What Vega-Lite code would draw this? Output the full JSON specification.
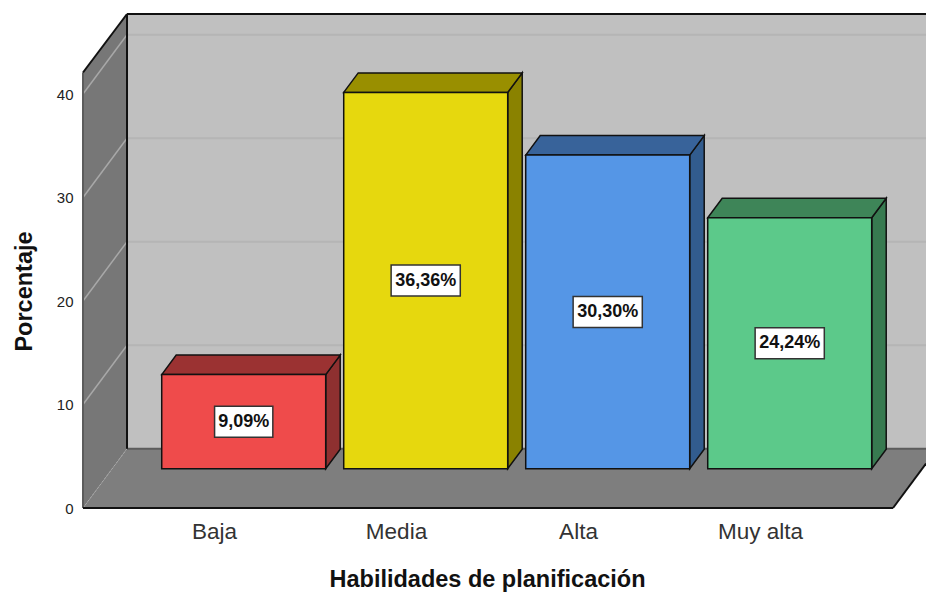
{"$schema":"https://vega.github.io/schema/vega-lite/v6.json","width":843,"height":494,"autosize":"none","padding":{"left":83,"top":14,"right":0,"bottom":84},"background":"white","config":{"view":{"stroke":null},"font":"Liberation Sans"},
"datasets":{
"bars":[{"cat":"Baja","pct":9.09,"label":"9,09%"},{"cat":"Media","pct":36.36,"label":"36,36%"},{"cat":"Alta","pct":30.30,"label":"30,30%"},{"cat":"Muy alta","pct":24.24,"label":"24,24%"}],
"back":[{"px":0.522,"py":47.73,"py2":5.73},{"px":4.912,"py":47.73,"py2":5.73}],
"left":[{"px":0.2802,"py":42.08,"py2":0},{"px":0.522,"py":47.73,"py2":5.73}],
"floor":[{"px":0.2802,"py":0,"py2":0},{"px":0.522,"py":5.73,"py2":0},{"px":4.7308,"py":5.73,"py2":0},{"px":4.912,"py":5.73,"py2":4.294}],
"ticks":[{"v":10},{"v":20},{"v":30},{"v":40}],
"edges":[{"px":0.2802,"py":42.08,"px2":0.522,"py2":47.73},{"px":0.522,"py":47.73,"px2":4.912,"py2":47.73},{"px":0.522,"py":47.73,"px2":0.522,"py2":5.73},{"px":0.2802,"py":0,"px2":4.7308,"py2":0},{"px":4.7308,"py":0,"px2":4.912,"py2":4.294}],
"soft":[{"px":0.2802,"py":0,"px2":0.2802,"py2":42.08},{"px":0.522,"py":5.73,"px2":4.912,"py2":5.73}]
},
"encoding":{
"x":{"field":"px","type":"quantitative","scale":{"domain":[0.2802,4.912],"nice":false,"zero":false},"axis":{"values":[1,2,3,4],"labelExpr":"['Baja','Media','Alta','Muy alta'][datum.value-1]","title":"Habilidades de planificación","grid":false,"domain":false,"ticks":false,"labelFontSize":22.5,"labelColor":"#333333","labelPadding":12,"titleFontSize":23.5,"titleFontWeight":"bold","titleColor":"#111111","titleX":404,"titleY":71,"titleBaseline":"middle","labelFlush":false,"labelOverlap":false}},
"y":{"field":"py","type":"quantitative","stack":null,"scale":{"domain":[0,47.73],"nice":false,"zero":false},"axis":{"values":[0,10,20,30,40],"title":"Porcentaje","grid":false,"domain":false,"ticks":false,"labelFontSize":15,"labelColor":"#222222","labelPadding":10,"titleFontSize":23.5,"titleFontWeight":"bold","titleColor":"#111111","titleX":-59,"titleY":277,"titleBaseline":"middle"}}
},
"layer":[
{"data":{"name":"back"},"mark":{"type":"area","fill":"#c0c0c0","stroke":null},"encoding":{"y2":{"field":"py2"}}},
{"data":{"name":"ticks"},"transform":[{"calculate":"0.522","as":"px"},{"calculate":"4.912","as":"px2"},{"calculate":"datum.v+5.73","as":"py"},{"calculate":"datum.v+5.73","as":"py2"}],"mark":{"type":"rule","stroke":"#b5b5b5","strokeWidth":2},"encoding":{"x2":{"field":"px2"},"y2":{"field":"py2"}}},
{"data":{"name":"left"},"mark":{"type":"area","fill":"#777777","stroke":null},"encoding":{"y2":{"field":"py2"}}},
{"data":{"name":"floor"},"mark":{"type":"area","fill":"#7e7e7e","stroke":null},"encoding":{"y2":{"field":"py2"}}},
{"data":{"name":"ticks"},"transform":[{"calculate":"0.2802","as":"px"},{"calculate":"0.522","as":"px2"},{"calculate":"datum.v","as":"py"},{"calculate":"datum.v+5.73","as":"py2"}],"mark":{"type":"rule","stroke":"#a8a8a8","strokeWidth":1.5},"encoding":{"x2":{"field":"px2"},"y2":{"field":"py2"}}},
{"data":{"values":[{"px":0.2802,"py":0,"px2":0.522,"py2":5.73}]},"mark":{"type":"rule","stroke":"#a8a8a8","strokeWidth":1,"strokeDash":[2,2]},"encoding":{"x2":{"field":"px2"},"y2":{"field":"py2"}}},
{"data":{"name":"soft"},"mark":{"type":"rule","stroke":"#5c5c5c","strokeWidth":2},"encoding":{"x2":{"field":"px2"},"y2":{"field":"py2"}}},
{"data":{"name":"edges"},"mark":{"type":"rule","stroke":"#111111","strokeWidth":2},"encoding":{"x2":{"field":"px2"},"y2":{"field":"py2"}}},
{"data":{"name":"bars"},"transform":[{"calculate":"indexof(['Baja','Media','Alta','Muy alta'],datum.cat)+1.1632","as":"c"},{"calculate":"datum.c+0.4505","as":"px0"},{"calculate":"datum.pct+3.797","as":"t"},{"calculate":"[0,1]","as":"k"},{"flatten":["k"]},{"calculate":"datum.px0+datum.k*0.0797","as":"px"},{"calculate":"datum.t+datum.k*1.884","as":"py"},{"calculate":"3.797+datum.k*1.884","as":"py2"}],"mark":{"type":"area","stroke":"#111111","strokeWidth":1.5},"encoding":{"y2":{"field":"py2"},"detail":{"field":"cat"},"fill":{"field":"cat","type":"nominal","legend":null,"scale":{"domain":["Baja","Media","Alta","Muy alta"],"range":["#8e3030","#8a8200","#325c8e","#377a50"]}}}},
{"data":{"name":"bars"},"transform":[{"calculate":"indexof(['Baja','Media','Alta','Muy alta'],datum.cat)+1.1632","as":"c"},{"calculate":"datum.pct+3.797","as":"t"},{"calculate":"[0,1,2,3]","as":"k"},{"flatten":["k"]},{"calculate":"[datum.c-0.4505,datum.c-0.4505+0.0797,datum.c+0.4505,datum.c+0.4505+0.0797][datum.k]","as":"px"},{"calculate":"datum.k==0?datum.t:datum.t+1.884","as":"py"},{"calculate":"datum.k==3?datum.t+1.884:datum.t","as":"py2"}],"mark":{"type":"area","stroke":"#111111","strokeWidth":1.5},"encoding":{"y2":{"field":"py2"},"detail":{"field":"cat"},"fill":{"field":"cat","type":"nominal","legend":null,"scale":{"domain":["Baja","Media","Alta","Muy alta"],"range":["#9b3232","#998f00","#38639a","#3e8558"]}}}},
{"data":{"name":"bars"},"transform":[{"calculate":"indexof(['Baja','Media','Alta','Muy alta'],datum.cat)+1.1632","as":"c"},{"calculate":"datum.c-0.4505","as":"px"},{"calculate":"datum.c+0.4505","as":"px2"},{"calculate":"datum.pct+3.797","as":"py"},{"calculate":"3.797","as":"py2"}],"mark":{"type":"rect","stroke":"#111111","strokeWidth":1.5},"encoding":{"x2":{"field":"px2"},"y2":{"field":"py2"},"fill":{"field":"cat","type":"nominal","legend":null,"scale":{"domain":["Baja","Media","Alta","Muy alta"],"range":["#ef4b4b","#e6d80e","#5596e6","#5cc98a"]}}}},
{"data":{"name":"bars"},"transform":[{"calculate":"indexof(['Baja','Media','Alta','Muy alta'],datum.cat)+1.1632","as":"c"},{"calculate":"length(datum.label)>5?0.19:0.16","as":"hw"},{"calculate":"datum.c-datum.hw","as":"px"},{"calculate":"datum.c+datum.hw","as":"px2"},{"calculate":"datum.pct/2+3.797+1.5","as":"py"},{"calculate":"datum.pct/2+3.797-1.5","as":"py2"}],"mark":{"type":"rect","fill":"white","stroke":"#333333","strokeWidth":1.5},"encoding":{"x2":{"field":"px2"},"y2":{"field":"py2"}}},
{"data":{"name":"bars"},"transform":[{"calculate":"indexof(['Baja','Media','Alta','Muy alta'],datum.cat)+1.1632","as":"px"},{"calculate":"datum.pct/2+3.797","as":"py"}],"mark":{"type":"text","font":"Liberation Sans","fontWeight":"bold","fontSize":18,"fill":"#111111","align":"center","baseline":"middle"},"encoding":{"text":{"field":"label"}}}
],
"resolve":{"scale":{"fill":"independent"}}}
